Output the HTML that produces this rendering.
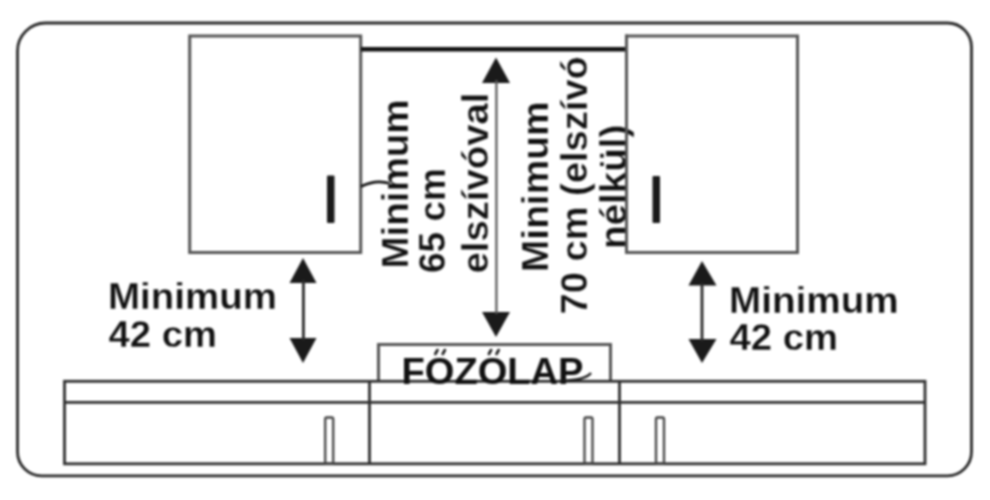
<!DOCTYPE html>
<html><head><meta charset="utf-8">
<style>
html,body{margin:0;padding:0;background:#fff;width:990px;height:500px;overflow:hidden}
svg{display:block}
#w{width:990px;height:500px}
text{font-family:"Liberation Sans",sans-serif;font-weight:bold;fill:#111;stroke:#fff;stroke-width:0.3px}
</style></head><body>
<div id="w"><svg width="990" height="500" viewBox="0 0 990 500">
<defs><filter id="soft" x="0" y="0" width="990" height="500" filterUnits="userSpaceOnUse" color-interpolation-filters="sRGB"><feGaussianBlur stdDeviation="1"/></filter></defs>
<g filter="url(#soft)">
<rect x="0" y="0" width="990" height="500" fill="#fff"/>
<!-- outer frame -->
<path d="M45.5,23 H947.5 A24,24 0 0 1 971.5,47 V451.8 A24,24 0 0 1 947.5,475.8 H41.5 A24,24 0 0 1 17.5,451.8 V51 A28,28 0 0 1 45.5,23 Z" fill="none" stroke="#2a2a2a" stroke-width="2.8"/>
<!-- upper cabinets -->
<rect x="189.7" y="36" width="171" height="216.5" fill="none" stroke="#555" stroke-width="3"/>
<rect x="626.5" y="36" width="171" height="216.5" fill="none" stroke="#555" stroke-width="3"/>
<line x1="361" y1="49.3" x2="626" y2="49.3" stroke="#111" stroke-width="4.6"/>
<rect x="327" y="175.5" width="7.5" height="47.5" rx="1" fill="#1a1a1a"/>
<rect x="652.5" y="176" width="7.5" height="47" rx="1" fill="#1a1a1a"/>
<path d="M361,186.5 Q376,179 390,183.5" fill="none" stroke="#111" stroke-width="2.8"/>
<!-- arrows -->
<g fill="#1a1a1a" stroke="none">
<polygon points="303,258 289.5,283 316.5,283"/>
<polygon points="289.5,338 316.5,338 303,363"/>
<polygon points="496,57.5 482,83 510,83"/>
<polygon points="482,312 510,312 496,337"/>
<polygon points="702,261 688.5,285.5 716.5,285.5"/>
<polygon points="688.5,339 716.5,339 702,363"/>
</g>
<line x1="303.4" y1="280" x2="303.4" y2="340" stroke="#2a2a2a" stroke-width="2.8"/>
<line x1="496.4" y1="80" x2="496.4" y2="314" stroke="#555" stroke-width="2.2"/>
<line x1="702" y1="283" x2="702" y2="341" stroke="#2a2a2a" stroke-width="2.8"/>
<!-- cooktop -->
<path d="M378.5,381 V344.5 H610.5 V381" fill="none" stroke="#555" stroke-width="3"/>
<!-- base counters -->
<rect x="64.5" y="381.3" width="860.5" height="82.5" fill="none" stroke="#2e2e2e" stroke-width="2.8"/>
<line x1="64.5" y1="402.3" x2="925" y2="402.3" stroke="#2e2e2e" stroke-width="2.8"/>
<line x1="369.5" y1="381.3" x2="369.5" y2="463.8" stroke="#2e2e2e" stroke-width="2.8"/>
<line x1="619.5" y1="381.3" x2="619.5" y2="463.8" stroke="#2e2e2e" stroke-width="2.8"/>
<rect x="325.2" y="417.5" width="8" height="46" rx="1.5" fill="none" stroke="#444" stroke-width="2.3"/>
<rect x="584.5" y="417.5" width="8" height="46" rx="1.5" fill="none" stroke="#444" stroke-width="2.3"/>
<rect x="656" y="417.5" width="8" height="46" rx="1.5" fill="none" stroke="#444" stroke-width="2.3"/>
<!-- horizontal texts -->
<text transform="translate(108,308.5) scale(1.041,1)" font-size="37">Minimum</text>
<text transform="translate(108.5,347) scale(1.035,1)" font-size="37">42 cm</text>
<text transform="translate(729,313) scale(1.045,1)" font-size="37">Minimum</text>
<text transform="translate(729.5,350) scale(1.035,1)" font-size="37">42 cm</text>
<text transform="translate(401.5,384) scale(1.03,1)" font-size="37" style="stroke:none">FOZOLAP</text>
<g stroke="#1a1a1a" stroke-width="2.6" stroke-linecap="round">
<line x1="435.3" y1="354" x2="437.5" y2="350"/><line x1="442.7" y1="354" x2="444.9" y2="350"/>
<line x1="488.9" y1="354" x2="491.1" y2="350"/><line x1="496.5" y1="354" x2="498.7" y2="350"/>
</g>
<path d="M562,380.5 C576,380.5 586,379 591,373" fill="none" stroke="#1a1a1a" stroke-width="2.5"/>
<!-- rotated texts -->
<text transform="translate(408,268.5) rotate(-90) scale(1.042,1)" font-size="37">Minimum</text>
<text transform="translate(444.5,273) rotate(-90)" font-size="37">65 cm</text>
<text transform="translate(487.5,273.5) rotate(-90) scale(1.035,1)" font-size="37">elszívóval</text>
<text transform="translate(548,272) rotate(-90) scale(1.05,1)" font-size="37">Minimum</text>
<text transform="translate(586.5,314.5) rotate(-90) scale(1.03,1)" font-size="37">70 cm (elszívó</text>
<text transform="translate(626,249) rotate(-90) scale(1.044,1)" font-size="37">nélkül)</text>
<line x1="626.5" y1="34.5" x2="626.5" y2="254" stroke="#555" stroke-width="3"/>
</g>
</svg></div>
</body></html>
